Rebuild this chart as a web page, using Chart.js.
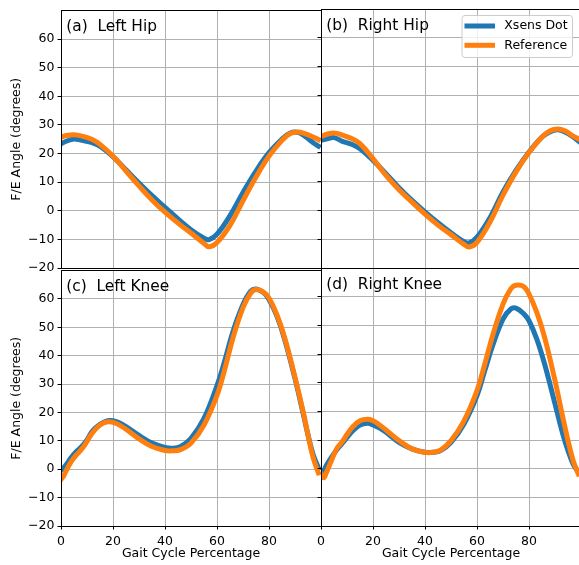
<!DOCTYPE html>
<html>
<head>
<meta charset="utf-8">
<script src="https://cdn.jsdelivr.net/npm/chart.js@4.4.0/dist/chart.umd.min.js"></script>
<style>
  html, body { margin: 0; padding: 0; background: #fff; overflow: hidden; }
  #fig { position: relative; width: 579px; height: 565px; overflow: hidden; }
  canvas { position: absolute; }
</style>
</head>
<body>
<div id="fig">
  <canvas id="leftHip" width="330" height="280" style="left:0;top:0"></canvas>
  <canvas id="rightHip" width="271" height="280" style="left:310px;top:0"></canvas>
  <canvas id="leftKnee" width="330" height="305" style="left:0;top:260px"></canvas>
  <canvas id="rightKnee" width="271" height="305" style="left:310px;top:260px"></canvas>
</div>
<script>
// values
const xTicks = [0, 20, 40, 60, 80];
const yTicks = [-20, -10, 0, 10, 20, 30, 40, 50, 60];

const hipX = [0, 2, 5, 8, 12, 15, 20, 25, 30, 35, 40, 45, 50, 55, 57, 60, 65, 70, 75, 80, 85, 88, 91, 94, 97, 99];
const leftHipXsens = [23.4, 24.3, 25.1, 24.6, 23.8, 22.6, 18.9, 14.3, 9.7, 5.3, 1.2, -2.8, -6.6, -9.6, -10.1, -8.2, -1.7, 6.4, 13.9, 20.3, 25.1, 27.1, 27.4, 25.9, 23.8, 22.6];
const leftHipRef = [25.7, 26.3, 26.6, 26.1, 24.9, 23.2, 19.1, 13.9, 8.7, 3.8, -0.5, -4.3, -7.8, -11.4, -12.6, -11.1, -5.1, 3.5, 11.8, 19.1, 24.6, 26.9, 27.5, 26.9, 25.8, 24.9];
const rightHipXsens = [24.3, 24.8, 25.3, 24.1, 22.9, 21.4, 17.4, 12.8, 7.9, 3.5, -0.5, -4.3, -7.8, -10.9, -11.3, -9.3, -2.5, 6.4, 13.9, 20.3, 25.5, 27.3, 28, 27.2, 25.5, 24.1];
const rightHipRef = [25.7, 26.4, 26.9, 26.3, 24.9, 23.2, 18, 12.2, 7.2, 2.9, -1.3, -5.1, -8.4, -11.8, -12.7, -11.1, -4, 5.3, 13.4, 20.1, 25.5, 27.6, 28.3, 27.6, 25.8, 24.9];

const kneeX = [0, 1, 2, 4, 6, 8, 10, 12, 15, 18, 20, 22, 25, 30, 35, 40, 43, 46, 50, 55, 60, 63, 66, 70, 73, 75, 78, 80, 83, 86, 90, 93, 95, 97, 99];
const leftKneeXsens = [-0.3, 0.5, 1.6, 4.2, 6.3, 8, 10.3, 13.3, 15.8, 17.1, 17.1, 16.5, 15, 11.9, 9.2, 7.7, 7.4, 8, 10.9, 17.9, 29.5, 38.3, 48.1, 58, 62.7, 63.5, 62.1, 59.8, 54, 45.8, 31.9, 20.2, 12.1, 5.1, 0.5];
const leftKneeRef = [-3.6, -2.4, -0.5, 2.8, 5.1, 7.1, 9.8, 12.7, 15.6, 16.7, 16.5, 15.8, 14.1, 10.7, 8, 6.6, 6.5, 6.9, 9.2, 15.6, 26, 35.3, 45.8, 56.9, 62.1, 63.3, 62.3, 60.3, 54.5, 46.4, 32.4, 20.8, 12.1, 4, -1.3];
const rightKneeXsens = [-0.6, -0.8, 1, 3.9, 6.5, 8.6, 10.9, 13, 15.2, 15.8, 15.3, 14.4, 12.7, 9.2, 6.9, 5.7, 5.7, 6.3, 9.2, 15.6, 25.5, 34.2, 42.9, 52.2, 55.7, 56, 54, 51.6, 45.2, 36.5, 22.6, 12.1, 6.3, 1.6, -1.3];
const rightKneeRef = [-1.8, -3.2, -1.5, 2.8, 6.9, 9.2, 11.9, 14.4, 16.7, 17.2, 16.7, 15.6, 13.5, 9.8, 6.9, 5.7, 5.7, 6.5, 9.8, 16.7, 27.2, 36.5, 46.4, 57.4, 62.7, 64, 63.5, 60.9, 54.5, 45.8, 30.7, 17.9, 9.8, 2.8, -1.9];

const BLUE = '#1f77b4';
const ORANGE = '#ff7f0e';
const FONT = "'DejaVu Sans', sans-serif";

function roundedBox(ctx, x, y, w, h, r) {
  ctx.beginPath();
  ctx.moveTo(x + r, y);
  ctx.arcTo(x + w, y, x + w, y + h, r);
  ctx.arcTo(x + w, y + h, x, y + h, r);
  ctx.arcTo(x, y + h, x, y, r);
  ctx.arcTo(x, y, x + w, y, r);
  ctx.closePath();
}

// spines, panel label and (optionally) the legend
const panelPlugin = {
  id: 'panel',
  afterDatasetsDraw(chart, args, opts) {
    const { ctx, chartArea: a } = chart;
    ctx.save();
    ctx.strokeStyle = '#000';
    ctx.lineWidth = 1;
    const l = Math.floor(a.left) + 0.5, t = Math.floor(a.top) + 0.5;
    const r = Math.floor(a.right) + 0.5, b = Math.floor(a.bottom) + 0.5;
    ctx.strokeRect(l, t, r - l, b - t);

    ctx.fillStyle = '#000';
    ctx.font = `15.4px ${FONT}`;
    ctx.textBaseline = 'alphabetic';
    ctx.textAlign = 'left';
    ctx.fillText(opts.title, a.left + 5.3, a.top + 20.8);

    if (opts.legend) {
      const bw = 110.5, bh = 42;
      const bx = a.right - 8.5 - bw, by = a.top + 6.5;
      roundedBox(ctx, bx, by, bw, bh, 3);
      ctx.fillStyle = 'rgba(255,255,255,0.8)';
      ctx.fill();
      ctx.strokeStyle = '#cccccc';
      ctx.lineWidth = 1;
      ctx.stroke();
      ctx.font = `12.5px ${FONT}`;
      ctx.textBaseline = 'middle';
      chart.data.datasets.forEach((ds, i) => {
        const yy = by + 10.5 + i * 19.3;
        ctx.strokeStyle = ds.borderColor;
        ctx.lineWidth = 5;
        ctx.lineCap = 'butt';
        ctx.beginPath();
        ctx.moveTo(bx + 2.5, yy);
        ctx.lineTo(bx + 33, yy);
        ctx.stroke();
        ctx.fillStyle = '#000';
        ctx.fillText(ds.label, bx + 42.3, yy);
      });
    }
    ctx.restore();
  }
};

function makeChart(id, xs, xsens, ref, opt) {
  const toPts = (ys) => ys.map((y, i) => ({ x: xs[i], y }));
  return new Chart(document.getElementById(id), {
    type: 'line',
    data: {
      datasets: [
        { label: 'Xsens Dot', data: toPts(xsens), borderColor: BLUE, borderWidth: 5, order: 1 },
        { label: 'Reference', data: toPts(ref), borderColor: ORANGE, borderWidth: 5, order: 0 }
      ]
    },
    options: {
      responsive: false,
      animation: false,
      events: [],
      elements: {
        point: { radius: 0 },
        line: { tension: 0.4, borderCapStyle: 'square', borderJoinStyle: 'round' }
      },
      layout: { padding: opt.padding },
      plugins: {
        legend: { display: false },
        tooltip: { enabled: false },
        panel: { title: opt.title, legend: opt.legend }
      },
      scales: {
        x: {
          type: 'linear',
          min: 0,
          max: 100,
          afterBuildTicks: (s) => { s.ticks = xTicks.map((v) => ({ value: v })); },
          afterFit: (s) => { s.height = opt.xHeight; },
          grid: { color: '#b0b0b0', lineWidth: 1, drawTicks: opt.xLabels, tickLength: 3.5, tickColor: '#000' },
          border: { display: false },
          ticks: { display: opt.xLabels, color: '#000', font: { family: FONT, size: 12.5 }, padding: 4.5, maxRotation: 0, autoSkip: false },
          title: {
            display: opt.xLabels, text: 'Gait Cycle Percentage', color: '#000',
            font: { family: FONT, size: 12.5 }, padding: { top: 0, bottom: 3.5 }
          }
        },
        y: {
          type: 'linear',
          min: -20,
          max: 70,
          afterBuildTicks: (s) => { s.ticks = yTicks.map((v) => ({ value: v })); },
          afterFit: (s) => { s.width = opt.yWidth; },
          grid: { color: '#b0b0b0', lineWidth: 1, drawTicks: true, tickLength: 3.5, tickColor: '#000' },
          border: { display: false },
          ticks: {
            display: opt.yLabels, color: '#000', font: { family: FONT, size: 12.5 }, padding: 3,
            callback: (v) => String(v).replace('-', '\u2212')
          },
          title: {
            display: opt.yLabels, text: 'F/E Angle (degrees)', color: '#000',
            font: { family: FONT, size: 12.5 }, padding: { top: 9.5, bottom: 0 }
          }
        }
      }
    },
    plugins: [panelPlugin]
  });
}

makeChart('leftHip', hipX, leftHipXsens, leftHipRef, {
  title: '(a)  Left Hip', legend: false, xLabels: false, yLabels: true,
  padding: { left: 0, top: 9, right: 9, bottom: 0 }, xHeight: 12, yWidth: 61
});
makeChart('rightHip', hipX, rightHipXsens, rightHipRef, {
  title: '(b)  Right Hip', legend: true, xLabels: false, yLabels: false,
  padding: { left: 0, top: 9, right: 0, bottom: 0 }, xHeight: 12, yWidth: 11
});
makeChart('leftKnee', kneeX, leftKneeXsens, leftKneeRef, {
  title: '(c)  Left Knee', legend: false, xLabels: true, yLabels: true,
  padding: { left: 0, top: 8, right: 9, bottom: 0 }, xHeight: 39, yWidth: 61
});
makeChart('rightKnee', kneeX, rightKneeXsens, rightKneeRef, {
  title: '(d)  Right Knee', legend: false, xLabels: true, yLabels: false,
  padding: { left: 0, top: 8, right: 0, bottom: 0 }, xHeight: 39, yWidth: 11
});
</script>
</body>
</html>
